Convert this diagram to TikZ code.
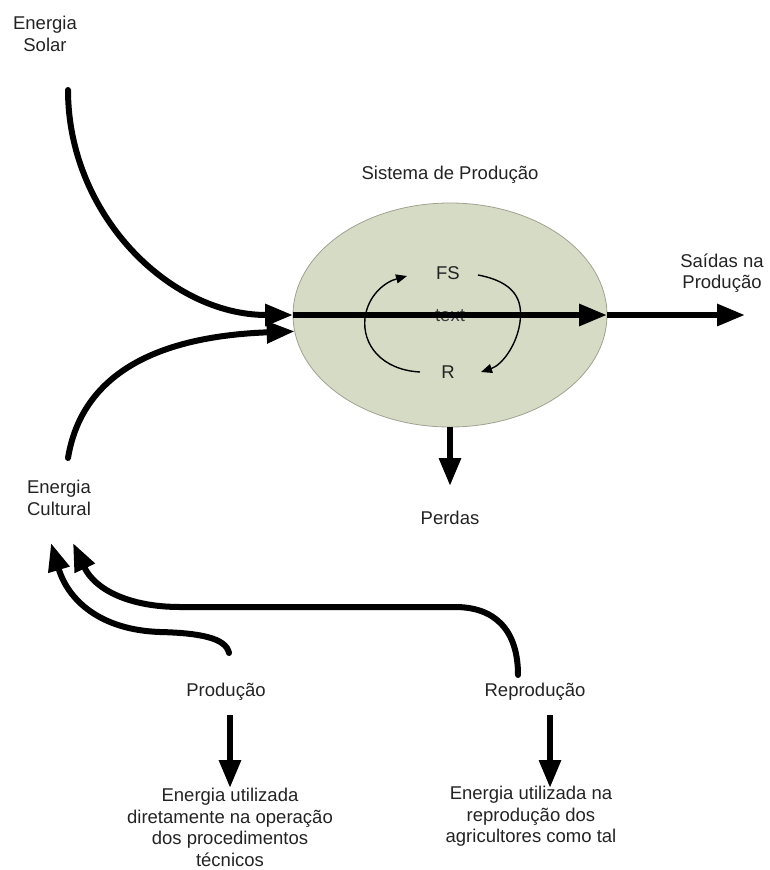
\documentclass[tikz,border=0pt]{standalone}
\usepackage{fontspec}
\setmainfont{Liberation Sans}
\usetikzlibrary{arrows.meta,shapes.geometric}

\definecolor{sysfill}{RGB}{214,219,198}
\definecolor{sysline}{RGB}{160,162,145}
\definecolor{labeltext}{RGB}{35,35,35}

\tikzset{
  lbl/.style={font=\fontsize{18.5}{21.7}\selectfont, text=labeltext, align=center, inner sep=0pt},
  flow/.style={line width=6pt, -{Triangle[length=28pt,width=21pt]}},
  cycle/.style={line width=1.4pt, -{Triangle[length=11pt,width=9pt]}},
}

\begin{document}
\begin{tikzpicture}[x=1pt,y=-1pt]
\useasboundingbox (0,0) rectangle (769,870);

% production system
\node[ellipse, draw=sysline, fill=sysfill, line width=0.8pt,
      minimum width=314pt, minimum height=224pt, inner sep=0pt, outer sep=0pt]
      (sys) at (450,315) {};
\node[lbl] (title) at (450,175) {Sistema de Produção};
\node[lbl, text=black!75] (inner) at (450,316) {text};
\node[lbl] (fs) at (448,273) {FS};
\node[lbl] (r) at (448,372) {R};

% labels around the system
\node[lbl] (solar) at (45,34) {Energia\\Solar};
\node[lbl] (cultural) at (59,498) {Energia\\Cultural};
\node[lbl] (saidas) at (722,273) {Saídas na\\Produção};
\node[lbl] (perdas) at (450,518) {Perdas};
\node[lbl] (prod) at (226,692) {Produção};
\node[lbl] (reprod) at (535,692) {Reprodução};
\node[lbl] (prodtxt) at (230,827.5) {Energia utilizada\\diretamente na operação\\dos procedimentos\\técnicos};
\node[lbl] (reprodtxt) at (531,816.5) {Energia utilizada na\\reprodução dos\\agricultores como tal};

% free ends of the connectors
\coordinate (solarstart) at (68,90);
\coordinate (culturalstart) at (68,458);
\coordinate (out) at (745,315);
\coordinate (perdastip) at (450,486);
\coordinate (prodstart) at (229,653);
\coordinate (reprodstart) at (518,675);
\coordinate (tipA) at (51,543);
\coordinate (tipB) at (73,543);
\coordinate (prodA) at (230,715);
\coordinate (prodB) at (230,788);
\coordinate (reprodA) at (550,715);
\coordinate (reprodB) at (550,788);

% inputs
\draw[flow, line cap=round] (solarstart) .. controls (68,214) and (169,315) .. (sys.west);
\draw[flow, line cap=round] (culturalstart) .. controls (80,385) and (140,337) .. (sys.186.5);

% throughput and outputs
\draw[flow] (sys.west) -- (sys.east);
\draw[flow] (sys.east) -- (out);
\draw[flow] (sys.south) -- (perdastip);

% internal cycle between FS and R
\draw[cycle] (420,372) .. controls (382,370) and (362,345) .. (365,318)
             .. controls (368,295) and (385,282) .. (407,276);
\draw[cycle] (478,275) .. controls (515,282) and (523,300) .. (520,322)
             .. controls (517,345) and (502,365) .. (481,372);

% feedback to cultural energy
\draw[flow, line cap=round] (prodstart) .. controls (226,638) and (200,633) .. (160,632)
      .. controls (100,630) and (68,600) .. (tipA);
\draw[flow, line cap=round] (reprodstart) .. controls (518,630) and (495,607) .. (455,607)
      -- (180,607) .. controls (130,607) and (95,590) .. (tipB);

% energy use
\draw[flow] (prodA) -- (prodB);
\draw[flow] (reprodA) -- (reprodB);
\end{tikzpicture}
\end{document}
